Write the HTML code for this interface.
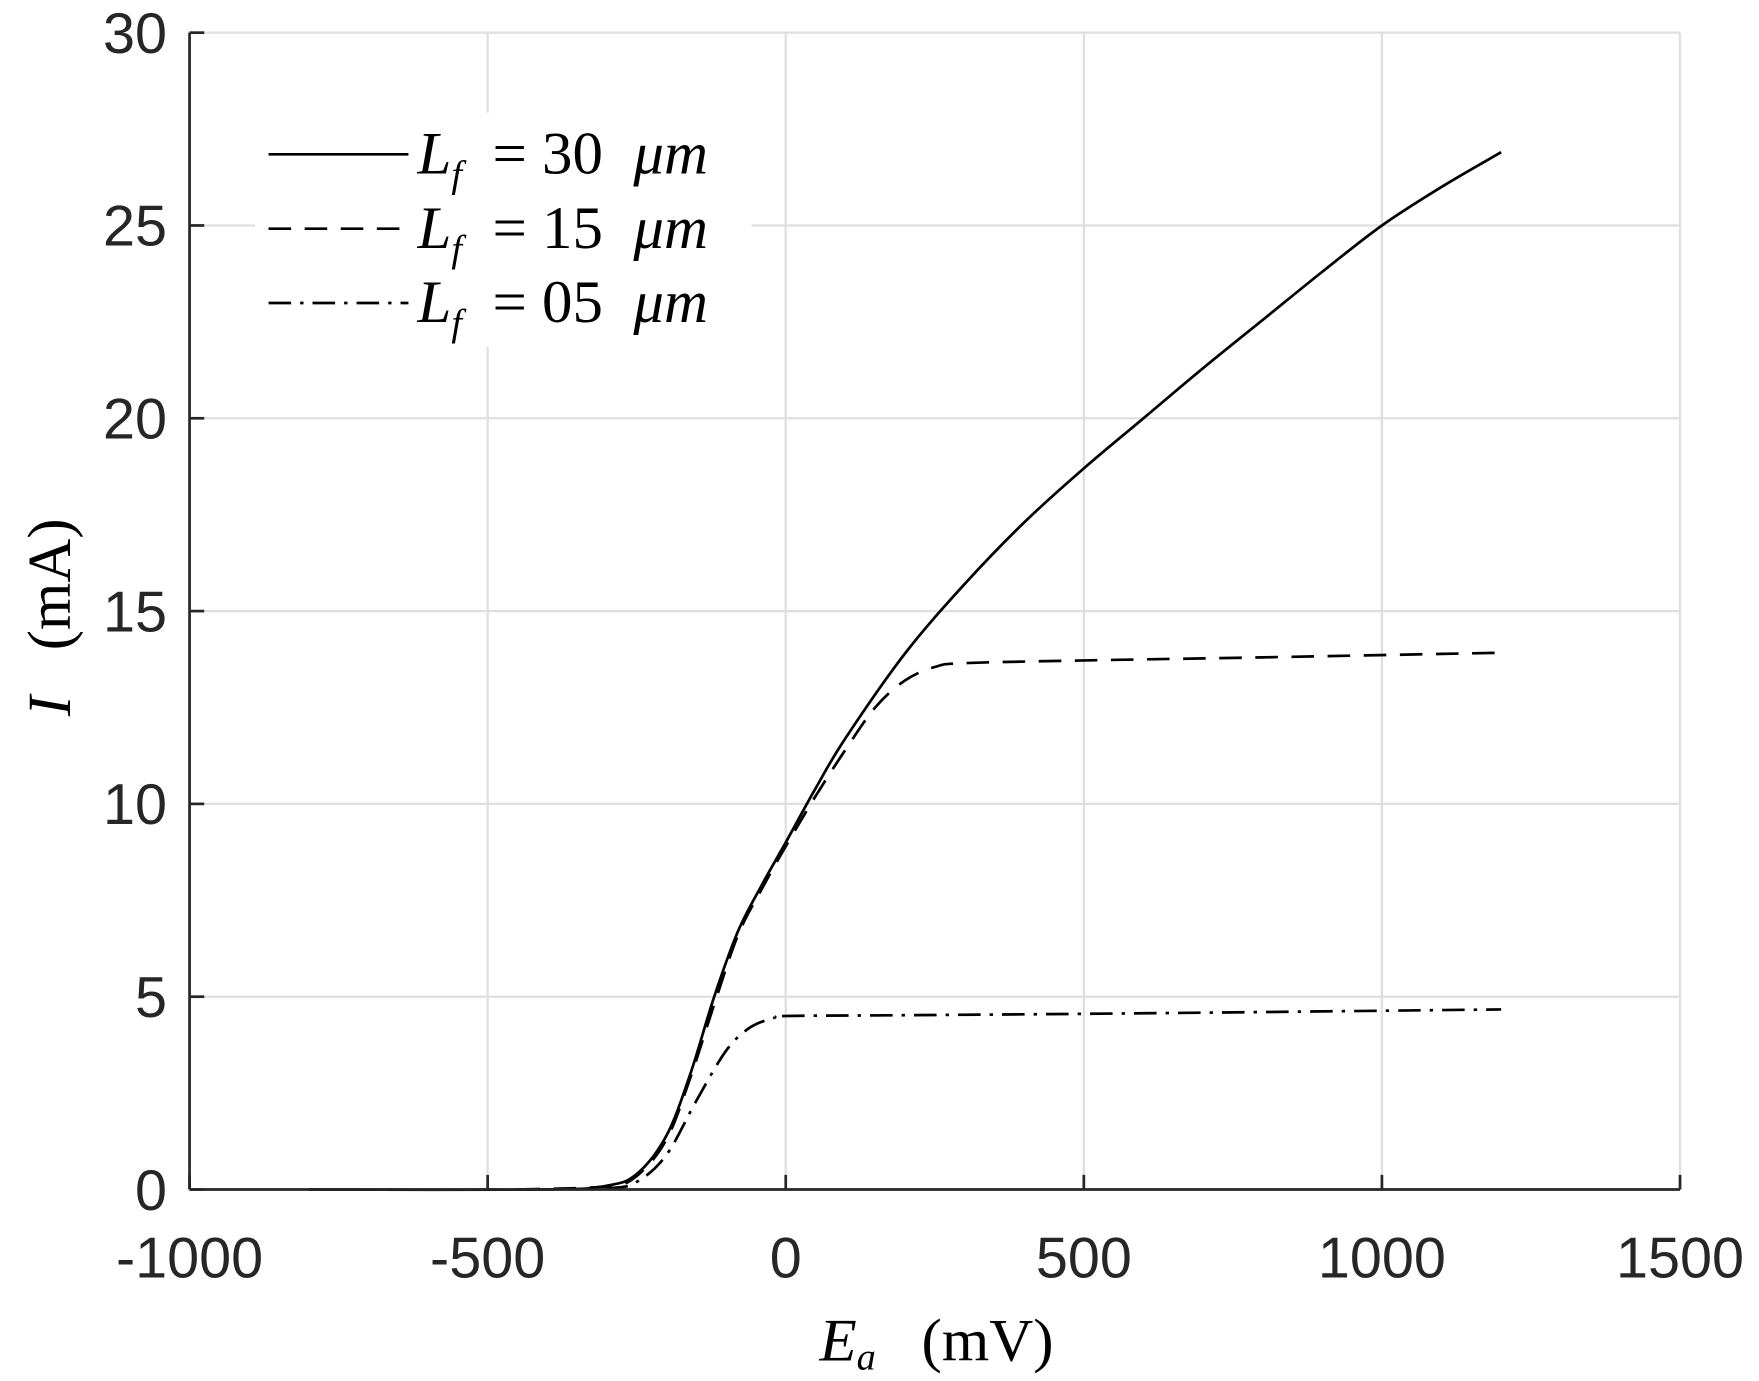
<!DOCTYPE html>
<html><head><meta charset="utf-8"><style>
html,body{margin:0;padding:0;background:#fff}
svg{display:block}
.t{font-family:"Liberation Sans",sans-serif;font-size:51px;fill:#262626}
.m{font-family:"Liberation Serif",serif;font-size:54px;fill:#000}
</style></head><body>
<svg id="s" width="1759" height="1381" viewBox="0 0 1559 1226" preserveAspectRatio="none">
<rect width="1559" height="1226" fill="#fff"/>
<g id="grid" stroke="#dfdfdf" stroke-width="2"></g>
<g id="curves" fill="none" stroke="#000" stroke-width="2.4"></g>
<rect x="226" y="100" width="440" height="208" fill="#fff"/>
<g stroke="#000" stroke-width="2.4">
<line x1="238" y1="137" x2="362" y2="137"/>
<line x1="238" y1="203" x2="362" y2="203" stroke-dasharray="20,12"/>
<line x1="238" y1="269" x2="362" y2="269" stroke-dasharray="20,8,3,8"/>
</g>
<text class="m" x="370" y="154"><tspan font-style="italic">L</tspan><tspan font-style="italic" font-size="34" dy="12">f</tspan><tspan dy="-12" xml:space="preserve">  = 30  </tspan><tspan font-style="italic">μm</tspan></text>
<text class="m" x="370" y="220"><tspan font-style="italic">L</tspan><tspan font-style="italic" font-size="34" dy="12">f</tspan><tspan dy="-12" xml:space="preserve">  = 15  </tspan><tspan font-style="italic">μm</tspan></text>
<text class="m" x="370" y="286"><tspan font-style="italic">L</tspan><tspan font-style="italic" font-size="34" dy="12">f</tspan><tspan dy="-12" xml:space="preserve">  = 05  </tspan><tspan font-style="italic">μm</tspan></text>
<g id="axes" stroke="#262626" stroke-width="2.4" fill="none"></g>
<g id="labels"></g>
<text class="m" x="830" y="1208" text-anchor="middle" xml:space="preserve"><tspan font-style="italic">E</tspan><tspan font-style="italic" font-size="34" dy="8">a</tspan><tspan dy="-8">   (mV)</tspan></text>
<text class="m" transform="translate(62,548) rotate(-90)" text-anchor="middle" xml:space="preserve"><tspan font-style="italic">I</tspan>   (mA)</text>
</svg>
<script>
var NS="http://www.w3.org/2000/svg";
var L=168,R=1489,T=29,B=1056;
function X(e){return L+(e+1000)*(R-L)/2500}
function Y(i){return B-i*(B-T)/30}
function el(p,n,a,txt){var e=document.createElementNS(NS,n);for(var k in a)e.setAttribute(k,a[k]);if(txt!=null)e.textContent=txt;document.getElementById(p).appendChild(e);return e}
for(var e=-500;e<=1500;e+=500)el("grid","line",{x1:X(e),y1:T,x2:X(e),y2:B});
for(var i=5;i<=30;i+=5)el("grid","line",{x1:L,y1:Y(i),x2:R,y2:Y(i)});
el("axes","line",{x1:L,y1:T,x2:L,y2:B});
el("axes","line",{x1:L,y1:B,x2:R,y2:B});
for(var e=-1000;e<=1500;e+=500){el("axes","line",{x1:X(e),y1:B,x2:X(e),y2:B-13});
 el("labels","text",{"class":"t",x:X(e),y:B+78,"text-anchor":"middle"},String(e));}
for(var i=0;i<=30;i+=5){el("axes","line",{x1:L,y1:Y(i),x2:L+13,y2:Y(i)});
 el("labels","text",{"class":"t",x:148,y:Y(i)+18,"text-anchor":"end"},String(i));}
function cr(pts){var P=pts.map(function(p){return[X(p[0]),Y(p[1])]});var d="M"+P[0][0]+","+P[0][1];
 for(var k=0;k<P.length-1;k++){var p0=P[k-1]||P[k],p1=P[k],p2=P[k+1],p3=P[k+2]||P[k+1];
 d+=" C"+(p1[0]+(p2[0]-p0[0])/6)+","+(p1[1]+(p2[1]-p0[1])/6)+" "+(p2[0]-(p3[0]-p1[0])/6)+","+(p2[1]-(p3[1]-p1[1])/6)+" "+p2[0]+","+p2[1];}return d}
var s1=[[-800,0],[-400,0],[-300,0.1],[-250,0.4],[-200,1.4],[-160,3.0],[-120,5.0],[-80,6.7],[-40,7.9],[0,9.0],[50,10.4],[100,11.7],[200,13.9],[300,15.7],[400,17.3],[500,18.7],[600,20.0],[700,21.3],[800,22.55],[900,23.8],[1000,25.0],[1100,26.0],[1200,26.9]];
var s2=[[-450,0],[-300,0.08],[-250,0.35],[-200,1.3],[-160,2.9],[-120,4.8],[-80,6.6],[-40,7.8],[0,8.9],[50,10.2],[100,11.4],[150,12.5],[200,13.2],[250,13.55],[300,13.65],[500,13.72],[800,13.8],[1200,13.92]];
var s3=[[-450,0],[-300,0.03],[-250,0.2],[-200,0.9],[-150,2.3],[-100,3.6],[-60,4.2],[-20,4.45],[0,4.5],[200,4.52],[600,4.57],[1200,4.67]];
el("curves","path",{d:cr(s1)});
el("curves","path",{d:cr(s2),"stroke-dasharray":"20,12"});
el("curves","path",{d:cr(s3),"stroke-dasharray":"20,8,3,8"});
</script>
</body></html>
